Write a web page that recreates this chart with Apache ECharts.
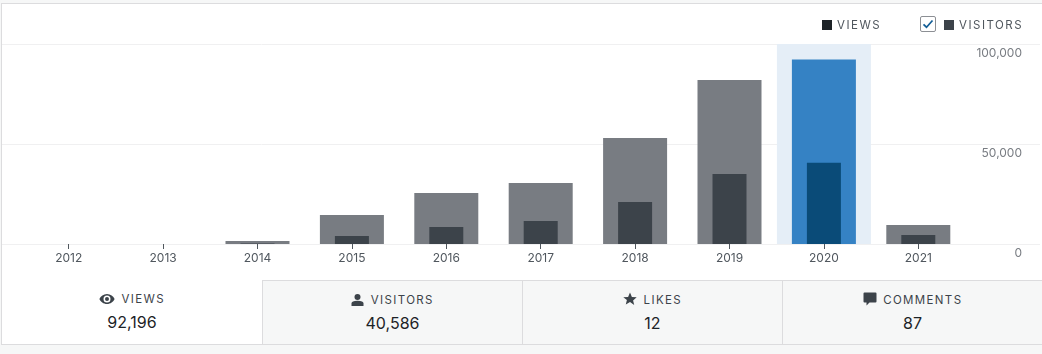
<!DOCTYPE html>
<html>
<head>
<meta charset="utf-8">
<script src="https://cdn.jsdelivr.net/npm/echarts@6/dist/echarts.min.js"></script>
<style>
  html, body { margin: 0; padding: 0; background: #f6f7f7; overflow: hidden; }
  body { width: 1042px; height: 354px; position: relative; font-family: Inter, "Noto Sans", sans-serif; }
  .panel { position: absolute; left: 1px; top: 3px; width: 1041px; height: 342px; background: #fff; border: 1px solid #dcdcde; border-right: 0; box-sizing: border-box; }
  #chart { position: absolute; left: 0; top: 0; width: 1042px; height: 280px; }
  .legend { position: absolute; top: 18px; height: 14px; line-height: 14px; font-size: 11.5px; letter-spacing: 1.5px; color: #50575e; white-space: nowrap; }
  .swatch { position: absolute; top: 20px; width: 10px; height: 10px; }
  .check { position: absolute; left: 920px; top: 16px; width: 16px; height: 16px; border: 1px solid #8c8f94; border-radius: 2px; box-sizing: border-box; background: #fff; }
  .check svg { display: block; }
  .tab { position: absolute; top: 280px; height: 65px; box-sizing: border-box; background: #f6f7f7; border-top: 1px solid #dcdcde; border-bottom: 1px solid #dcdcde; border-left: 1px solid #dcdcde; text-align: center; }
  .tab.on { background: #fff; border-top: 0; border-left: 0; }
  .tab .label { position: absolute; left: 0; right: 0; top: 11px; height: 16px; line-height: 16px; font-size: 11.5px; letter-spacing: 1.35px; color: #3c434a; }
  .tab .label svg { vertical-align: -2px; margin-right: 2px; }
  .tab .num { position: absolute; left: 0; right: 0; top: 32px; line-height: 20px; font-size: 16px; color: #1d2327; }
</style>
</head>
<body>
<div class="panel"></div>
<div id="chart"></div>

<div class="swatch" style="left:822px;background:#1d2327"></div>
<div class="legend" style="left:837px">VIEWS</div>
<div class="check"><svg width="14" height="14" viewBox="0 0 14 14"><path d="M2.5 7.300 L5.500 10.200 L11.500 3.500" fill="none" stroke="#135e96" stroke-width="1.700"/></svg></div>
<div class="swatch" style="left:944px;background:#3c434a"></div>
<div class="legend" style="left:959px">VISITORS</div>

<div class="tab on" style="left:2px;width:260px">
  <div class="label"><svg width="16" height="12" viewBox="0 0 16 12"><path d="M8 1C4.5 1 1.6 3.2 0.4 6 1.6 8.8 4.5 11 8 11s6.4-2.2 7.6-5C14.4 3.2 11.500 1 8 1zm0 8.500A3.500 3.500 0 1 1 8 2.500a3.500 3.500 0 0 1 0 7zM8 4a2 2 0 1 0 0 4 2 2 0 0 0 0-4z" fill="#3c434a"/></svg> VIEWS</div>
  <div class="num">92,196</div>
</div>
<div class="tab" style="left:262px;width:260px">
  <div class="label"><svg width="13" height="12" viewBox="0 0 13 12"><circle cx="6.500" cy="3" r="3" fill="#3c434a"/><path d="M0.500 12V9.500C0.500 7.800 2.500 6.800 6.500 6.800s6 1 6 2.700V12z" fill="#3c434a"/></svg> VISITORS</div>
  <div class="num">40,586</div>
</div>
<div class="tab" style="left:522px;width:260px">
  <div class="label"><svg width="14" height="14" viewBox="0 0 14 14"><path d="M7 0.500l1.900 4.400 4.800 0.400-3.600 3.100 1.100 4.700L7 10.100l-4.200 2.500 1.100-4.700L0.300 5.300l4.800-0.400z" fill="#3c434a"/></svg> LIKES</div>
  <div class="num">12</div>
</div>
<div class="tab" style="left:782px;width:260px;border-right:0">
  <div class="label"><svg width="14" height="14" viewBox="0 0 14 14"><path d="M1.500 0.500h11a1 1 0 0 1 1 1v8a1 1 0 0 1-1 1H6.500L3.500 13.500v-3h-2a1 1 0 0 1-1-1v-8a1 1 0 0 1 1-1z" fill="#3c434a"/></svg> COMMENTS</div>
  <div class="num">87</div>
</div>

<script>
const years = ['2012', '2013', '2014', '2015', '2016', '2017', '2018', '2019', '2020', '2021']
const views = [0, 0, 1500, 14500, 25500, 30500, 53000, 82000, 92196, 9500]
const visitors = [0, 0, 300, 4000, 8500, 11500, 21000, 35000, 40586, 4500]
// pale band behind the selected year
const highlight = [null, null, null, null, null, null, null, null, 100000, null]
const selectedYear = '2020'

// the selected year gets the blue pair
function barData(values, color, selectedColor) {
    return values.map((v, i) => ({
        value: v,
        itemStyle: { color: years[i] === selectedYear ? selectedColor : color }
    }))
}

// one grid per bar width, so all of them stay centered on the year
const barGrid = { left: 21.5, right: 76.5, top: 44, height: 200 }
const hiddenX = i => ({ type: 'category', gridIndex: i, data: years, show: false })
const hiddenY = i => ({ type: 'value', gridIndex: i, min: 0, max: 100000, show: false })

const chart = echarts.init(document.getElementById('chart'))
chart.setOption({
    animation: false,
    grid: [
        barGrid,
        barGrid,
        barGrid,
        // full width grid, only for the gridlines and the value labels
        { left: 2, right: 2, top: 44, height: 200 }
    ],
    xAxis: [
        {
            type: 'category', gridIndex: 0, data: years,
            axisLine: { show: true, lineStyle: { color: '#f0f0f1' } },
            axisTick: { show: true, alignWithLabel: true, interval: 0, length: 5, lineStyle: { color: '#50575e', width: 1 } },
            axisLabel: { color: '#50575e', fontFamily: 'Inter', fontSize: 12, margin: 8, interval: 0 }
        },
        hiddenX(1),
        hiddenX(2),
        hiddenX(3)
    ],
    yAxis: [
        hiddenY(0),
        hiddenY(1),
        hiddenY(2),
        {
            type: 'value', gridIndex: 3, min: 0, max: 100000, interval: 50000, position: 'right',
            axisLine: { show: false },
            axisTick: { show: false },
            splitLine: { lineStyle: { color: '#f0f0f1', width: 1 } },
            axisLabel: {
                inside: true, margin: 18, color: '#787c82', fontFamily: 'Inter', fontSize: 12,
                verticalAlign: 'top', padding: [3, 0, 0, 0],
                formatter: v => v.toLocaleString('en-US')
            }
        }
    ],
    series: [
        {
            name: 'Selected', type: 'bar', xAxisIndex: 2, yAxisIndex: 2, barWidth: 94, z: 1, silent: true,
            itemStyle: { color: '#e5eef7' },
            data: highlight
        },
        {
            name: 'Views', type: 'bar', xAxisIndex: 0, yAxisIndex: 0, barWidth: 64, z: 3,
            data: barData(views, '#787c82', '#3582c4')
        },
        {
            name: 'Visitors', type: 'bar', xAxisIndex: 1, yAxisIndex: 1, barWidth: 34, z: 4,
            data: barData(visitors, '#3c434a', '#0a4b78')
        }
    ]
})
</script>
</body>
</html>
